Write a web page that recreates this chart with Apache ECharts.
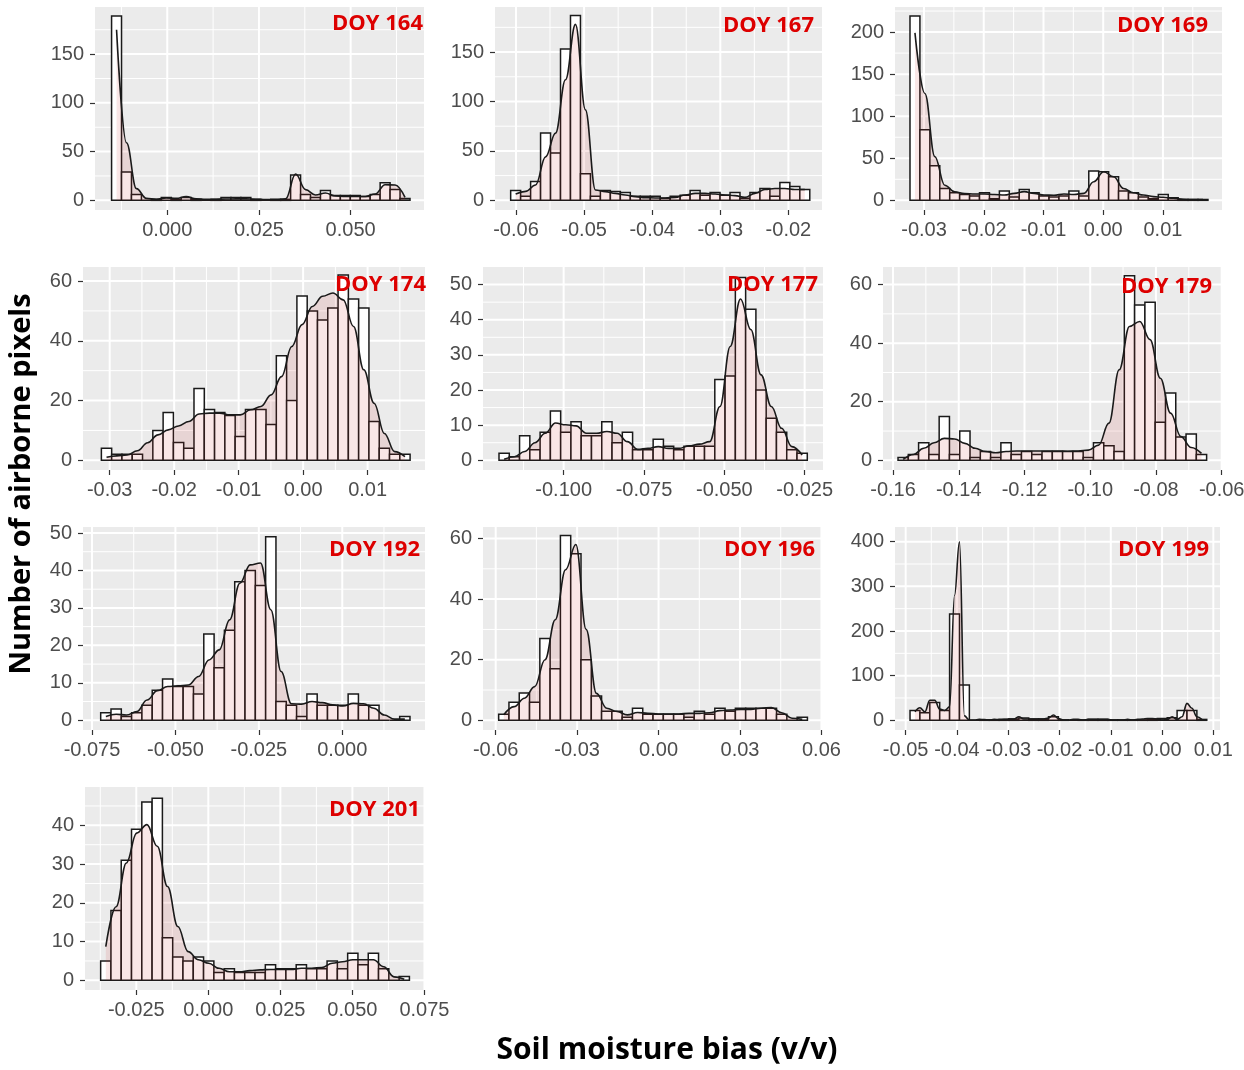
<!DOCTYPE html>
<html>
<head>
<meta charset="utf-8">
<script src="https://cdn.jsdelivr.net/npm/echarts@6/dist/echarts.min.js"></script>
<style>
  html, body { margin: 0; padding: 0; background: #ffffff; }
  #chart { width: 1244px; height: 1070px; }
</style>
</head>
<body>
<div id="chart"></div>
<script>
// ---- Histogram counts (30 bins per day) and density (scaled to counts) ----
// Density values are sampled at the bin centres (DOY 199: twice per bin).

const counts164 = [189, 29, 6, 0, 1, 3, 1, 3, 1, 0, 1, 3, 3, 3, 1, 0, 1, 1, 26, 6, 3, 10, 5, 5, 5, 4, 6, 18, 11, 2];
const density164 = [175, 59, 12, 2, 1, 2.5, 2, 3.8, 1.5, 1, 1.2, 1.4, 1.5, 1.5, 1.2, 0.8, 0.8, 1.5, 27, 11, 5.5, 7.5, 4.5, 4, 4, 4, 6.5, 16, 15.8, 3];

const counts167 = [10, 4, 19, 68, 48, 153, 187, 27, 4, 10, 9, 8, 4, 4, 4, 2, 4, 5, 10, 5, 8, 5, 8, 2, 8, 12, 4, 18, 14, 11];
const density167 = [6.4, 9, 15.5, 44, 68, 122, 178, 91.5, 10.5, 8.8, 7, 5.4, 3.7, 2.7, 2.4, 2.4, 3, 5.4, 7, 7, 6.4, 5.4, 4.7, 3, 7, 11, 12, 12, 11, 11];

const counts169 = [219, 84, 41, 14, 9, 7, 5, 9, 2, 11, 4, 13, 9, 5, 4, 5, 11, 5, 35, 34, 28, 11, 9, 4, 2, 7, 3, 1, 1, 1];
const density169 = [199, 127, 52, 18, 10, 8, 7.5, 7.5, 7, 6.3, 8.3, 10.3, 8.3, 6.3, 6, 7.5, 7, 8.3, 22, 34, 28, 14, 9, 6.3, 4.4, 3.6, 2.4, 1.2, 0.8, 0.8];

const counts174 = [4, 2, 2, 2, 0, 10, 16, 6, 4, 24, 17, 16, 15, 8, 17, 17, 12, 35, 20, 55, 50, 47, 51, 62, 54, 51, 13, 4, 2, 2];
const density174 = [1, 1.5, 1.8, 3.2, 5.9, 8.5, 10.2, 11.5, 13, 15.5, 15.8, 15.8, 15.2, 15.2, 16.9, 18, 21.9, 28, 38.1, 45.4, 51.5, 54.9, 56, 53.7, 44.8, 30.3, 19.1, 9, 2.9, 1.2];

const counts177 = [2, 1, 7, 3, 8, 14, 8, 11, 7, 7, 11, 5, 8, 3, 3, 6, 4, 3, 4, 4, 4, 23, 24, 52, 43, 20, 12, 8, 3, 2];
const density177 = [0.3, 1, 2.5, 5, 7.7, 10.6, 10.1, 9.8, 7.7, 7.7, 8.2, 7.7, 5.3, 3.1, 3.4, 3.9, 3.4, 3.4, 4.1, 4.6, 5.3, 15.3, 32.4, 45.9, 37.2, 24.3, 15.3, 9.1, 3.9, 1.5];

const counts179 = [1, 2, 6, 2, 15, 2, 10, 1, 3, 1, 6, 2, 3, 2, 3, 3, 3, 3, 1, 6, 5, 3, 63, 53, 54, 13, 23, 8, 9, 2];
const density179 = [0.3, 2, 4.1, 6, 7.5, 7.3, 5.8, 4.1, 3, 2.6, 3, 3.2, 3.2, 3.2, 3.2, 3.2, 3.1, 3.2, 3.5, 5.2, 12.7, 30.9, 45.7, 47.4, 41.2, 28, 16.1, 8.1, 4.4, 2.4];

const counts192 = [2, 3, 1, 2, 4, 8, 11, 9, 9, 7, 23, 14, 24, 37, 40, 36, 49, 5, 4, 1, 7, 4, 4, 4, 7, 4, 4, 0, 0, 1];
const density192 = [1, 1.6, 1.4, 2.3, 5.4, 7.9, 9, 9.2, 9.4, 11.7, 16.1, 18.8, 26.8, 36.6, 41.5, 42, 29.5, 13, 4.4, 4.3, 5, 4.7, 4.1, 3.8, 4.5, 4.4, 3.2, 1.4, 0.3, 0.3];

const counts196 = [2, 6, 9, 6, 27, 17, 61, 55, 20, 8, 3, 3, 1, 4, 2, 2, 2, 2, 1, 3, 2, 4, 3, 4, 4, 4, 4, 2, 0, 1];
const density196 = [1.8, 4.5, 7.3, 11.1, 20, 33.2, 49.7, 58, 30, 8.9, 4, 2.9, 1.8, 2.6, 2.3, 2.1, 2.1, 2.1, 2.3, 2.3, 2.5, 3.2, 3.4, 3.6, 3.6, 4, 4.2, 2.5, 0.7, 0.3];

const counts199 = [22, 17, 40, 22, 238, 79, 0, 1, 1, 2, 3, 5, 3, 3, 8, 1, 0, 1, 2, 2, 1, 1, 1, 1, 3, 4, 6, 22, 22, 2];
const density199 = [19, 28, 19, 45, 45, 25, 22, 30, 280, 400, 10, 0.7, 0.5, 2, 1.5, 0.5, 2, 1.5, 2, 3,
                    3, 8, 3, 3, 3, 3, 3, 5, 12, 4, 0.5, 0.5, 2, 2, 0.5, 2, 2, 2, 2, 2,
                    0.5, 0.5, 0.5, 2, 0.5, 2, 3, 4, 4, 3, 0.5, 2, 8, 2, 8, 38, 27, 8, 2];

const counts201 = [5, 18, 31, 39, 46, 47, 11, 6, 5, 6, 5, 2, 3, 2, 2, 2, 4, 3, 3, 4, 3, 3, 5, 3, 7, 4, 7, 3, 0, 1];
const density201 = [8.7, 19, 30.3, 38, 40.2, 34.6, 24.2, 13.9, 7.4, 5.3, 4.4, 3.1, 2.2, 2.2, 2.5, 2.7, 2.8, 2.8, 2.8, 3.1, 3.1, 3.3, 4.4, 4.8, 5.3, 5.3, 5.3, 3.5, 0.9, 0.3];

// ---- Bin edges: left edge of the first bin and the bin width ----
const binStarts = [-0.01518, -0.06078, -0.03235, -0.03129, -0.12012, -0.15848, -0.0724, -0.0589, -0.04915, -0.03737];
const binWidths = [0.002712, 0.001464, 0.001663, 0.001596, 0.003198, 0.003130, 0.00309, 0.003791, 0.001929, 0.003572];

// ---- Tick labels ----
const xTicks164 = ['0.000', '0.025', '0.050'];
const xTicks167 = ['-0.06', '-0.05', '-0.04', '-0.03', '-0.02'];
const xTicks169 = ['-0.03', '-0.02', '-0.01', '0.00', '0.01'];
const xTicks174 = ['-0.03', '-0.02', '-0.01', '0.00', '0.01'];
const xTicks177 = ['-0.100', '-0.075', '-0.050', '-0.025'];
const xTicks179 = ['-0.16', '-0.14', '-0.12', '-0.10', '-0.08', '-0.06'];
const xTicks192 = ['-0.075', '-0.050', '-0.025', '0.000'];
const xTicks196 = ['-0.06', '-0.03', '0.00', '0.03', '0.06'];
const xTicks199 = ['-0.05', '-0.04', '-0.03', '-0.02', '-0.01', '0.00', '0.01'];
const xTicks201 = ['-0.025', '0.000', '0.025', '0.050', '0.075'];

const yTicks164 = ['0', '50', '100', '150'];
const yTicks167 = ['0', '50', '100', '150'];
const yTicks169 = ['0', '50', '100', '150', '200'];
const yTicks174 = ['0', '20', '40', '60'];
const yTicks177 = ['0', '10', '20', '30', '40', '50'];
const yTicks179 = ['0', '20', '40', '60'];
const yTicks192 = ['0', '10', '20', '30', '40', '50'];
const yTicks196 = ['0', '20', '40', '60'];
const yTicks199 = ['0', '100', '200', '300', '400'];
const yTicks201 = ['0', '10', '20', '30', '40'];

const dayLabels = ['DOY 164', 'DOY 167', 'DOY 169', 'DOY 174', 'DOY 177', 'DOY 179', 'DOY 192', 'DOY 196', 'DOY 199', 'DOY 201'];

// ---- Panel layout (pixel boxes, axis ranges, tag anchor) ----
const panels = [
  { counts: counts164, density: density164, perBin: 1, xt: xTicks164, yt: yTicks164, box: [95, 7, 329, 203],  xr: [-0.0197, 0.0700],  yr: [-9.9, 198.3],  tag: [423, 24] },
  { counts: counts167, density: density167, perBin: 1, xt: xTicks167, yt: yTicks167, box: [495, 7, 328, 203], xr: [-0.06308, -0.01492], yr: [-9.8, 195.6], tag: [814, 26] },
  { counts: counts169, density: density169, perBin: 1, xt: xTicks169, yt: yTicks169, box: [895, 7, 327, 203], xr: [-0.03486, 0.01989], yr: [-11.5, 229.8], tag: [1208, 26] },
  { counts: counts174, density: density174, perBin: 1, xt: xTicks174, yt: yTicks174, box: [83, 267, 342, 203], xr: [-0.03414, 0.0189], yr: [-3.24, 64.7], tag: [426, 284.5] },
  { counts: counts177, density: density177, perBin: 1, xt: xTicks177, yt: yTicks177, box: [483, 267, 340, 203], xr: [-0.1251, -0.01929], yr: [-2.76, 55.0], tag: [818, 284.5] },
  { counts: counts179, density: density179, perBin: 1, xt: xTicks179, yt: yTicks179, box: [883, 267, 339, 203], xr: [-0.16305, -0.0599], yr: [-3.3, 66.0], tag: [1212, 286.5] },
  { counts: counts192, density: density192, perBin: 1, xt: xTicks192, yt: yTicks192, box: [83, 527, 342, 203], xr: [-0.0777, 0.0248], yr: [-2.6, 51.6], tag: [420, 549.5] },
  { counts: counts196, density: density196, perBin: 1, xt: xTicks196, yt: yTicks196, box: [483, 527, 339, 203], xr: [-0.06467, 0.0602], yr: [-3.2, 63.8], tag: [815, 549.5] },
  { counts: counts199, density: density199, perBin: 2, xt: xTicks199, yt: yTicks199, box: [895, 527, 325, 203], xr: [-0.05208, 0.0113], yr: [-21.7, 432.9], tag: [1209, 549.5] },
  { counts: counts201, density: density201, perBin: 1, xt: xTicks201, yt: yTicks201, box: [85, 787, 340, 203], xr: [-0.0428, 0.0752], yr: [-2.5, 49.9], tag: [420, 809.5] }
];

const TICK_COLOR = '#333333';
const LABEL_COLOR = '#4D4D4D';
const LABEL_FONT = 'Liberation Sans';
const OUTLINE = '#1A1A1A';

// minor grid positions: halfway between majors, one step past each end
function minorBreaks(vals, range) {
  const step = vals[1] - vals[0];
  const out = [];
  for (let k = -1; k < vals.length; k++) {
    const m = vals[0] + (k + 0.5) * step;
    if (m > range[0] && m < range[1]) out.push(m);
  }
  return out;
}

function labelFor(vals, labels) {
  return function (v) {
    let best = 0;
    for (let i = 1; i < vals.length; i++) {
      if (Math.abs(vals[i] - v) < Math.abs(vals[best] - v)) best = i;
    }
    return labels[best];
  };
}

const grids = [], xAxes = [], yAxes = [], series = [], graphics = [];

panels.forEach(function (p, i) {
  const xVals = p.xt.map(Number);
  const yVals = p.yt.map(Number);

  grids.push({
    left: p.box[0], top: p.box[1], width: p.box[2], height: p.box[3],
    show: true, backgroundColor: '#EBEBEB', borderWidth: 0,
    containLabel: false, outerBoundsMode: 'none'
  });

  xAxes.push({
    gridIndex: i, type: 'value', min: p.xr[0], max: p.xr[1], position: 'bottom',
    axisLine: { show: false, onZero: false },
    splitLine: { show: false },
    axisTick: { show: true, length: 5, customValues: xVals, lineStyle: { color: TICK_COLOR, width: 1.2 } },
    axisLabel: {
      show: true, customValues: xVals, formatter: labelFor(xVals, p.xt),
      color: LABEL_COLOR, fontSize: 20, fontFamily: LABEL_FONT, margin: 10
    }
  });

  yAxes.push({
    gridIndex: i, type: 'value', min: p.yr[0], max: p.yr[1], position: 'left',
    axisLine: { show: false, onZero: false },
    splitLine: { show: false },
    axisTick: { show: true, length: 5, customValues: yVals, lineStyle: { color: TICK_COLOR, width: 1.2 } },
    axisLabel: {
      show: true, customValues: yVals, formatter: labelFor(yVals, p.yt),
      color: LABEL_COLOR, fontSize: 20, fontFamily: LABEL_FONT, margin: 11
    }
  });

  // panel grid lines: [x, y, orientation (0 vertical, 1 horizontal), minor flag]
  const gridLines = [];
  xVals.filter(function (v) { return v >= p.xr[0] && v <= p.xr[1]; })
       .forEach(function (v) { gridLines.push([v, 0, 0, 0]); });
  minorBreaks(xVals, p.xr).forEach(function (v) { gridLines.push([v, 0, 0, 1]); });
  yVals.filter(function (v) { return v >= p.yr[0] && v <= p.yr[1]; })
       .forEach(function (v) { gridLines.push([p.xr[0], v, 1, 0]); });
  minorBreaks(yVals, p.yr).forEach(function (v) { gridLines.push([p.xr[0], v, 1, 1]); });

  series.push({
    type: 'custom', xAxisIndex: i, yAxisIndex: i, z: 1, silent: true,
    data: gridLines,
    renderItem: function (params, api) {
      const cs = params.coordSys;
      const pt = api.coord([api.value(0), api.value(1)]);
      const vertical = api.value(2) === 0;
      const minor = api.value(3) === 1;
      const shape = vertical
        ? { x1: pt[0], y1: cs.y, x2: pt[0], y2: cs.y + cs.height }
        : { x1: cs.x, y1: pt[1], x2: cs.x + cs.width, y2: pt[1] };
      return { type: 'line', shape: shape, style: { stroke: '#FFFFFF', lineWidth: minor ? 1.0 : 2.0 } };
    }
  });

  // histogram bars: [left edge, right edge, count]
  const start = binStarts[i], w = binWidths[i];
  const bins = p.counts.map(function (c, k) { return [start + k * w, start + (k + 1) * w, c]; });
  series.push({
    type: 'custom', xAxisIndex: i, yAxisIndex: i, z: 3, silent: true, clip: true,
    data: bins,
    encode: { x: [0, 1], y: 2 },
    renderItem: function (params, api) {
      const a = api.coord([api.value(0), api.value(2)]);
      const b = api.coord([api.value(1), 0]);
      return {
        type: 'rect',
        shape: { x: a[0], y: a[1], width: b[0] - a[0], height: b[1] - a[1] },
        style: { fill: '#FFFFFF', stroke: OUTLINE, lineWidth: 1.5 }
      };
    }
  });

  // density curve, sampled from the first bin centre onward
  const step = w / p.perBin;
  const dens = p.density.map(function (d, k) { return [start + w / 2 + k * step, d]; });
  series.push({
    type: 'line', xAxisIndex: i, yAxisIndex: i, z: 4, silent: true,
    data: dens, smooth: 0.4, smoothMonotone: 'x',
    showSymbol: false, symbol: 'none',
    lineStyle: { color: OUTLINE, width: 1.6 },
    areaStyle: { color: 'rgba(200,40,40,0.17)', origin: 'auto' }
  });

  graphics.push({
    type: 'text', x: p.tag[0], y: p.tag[1], z: 100,
    style: {
      text: dayLabels[i], font: 'bold 22px "Open Sans"', fill: '#DD0000',
      align: 'right', verticalAlign: 'middle'
    }
  });
});

graphics.push({
  type: 'text', x: 22, y: 484, rotation: Math.PI / 2, z: 100,
  style: {
    text: 'Number of airborne pixels', font: 'bold 29px "Open Sans"', fill: '#000000',
    align: 'center', verticalAlign: 'middle'
  }
});
graphics.push({
  type: 'text', x: 667, y: 1050, z: 100,
  style: {
    text: 'Soil moisture bias (v/v)', font: 'bold 30px "Open Sans"', fill: '#000000',
    align: 'center', verticalAlign: 'middle'
  }
});

const chart = echarts.init(document.getElementById('chart'), null, { renderer: 'canvas' });
chart.setOption({
  backgroundColor: '#FFFFFF',
  animation: false,
  grid: grids,
  xAxis: xAxes,
  yAxis: yAxes,
  series: series,
  graphic: graphics
});
</script>
</body>
</html>
